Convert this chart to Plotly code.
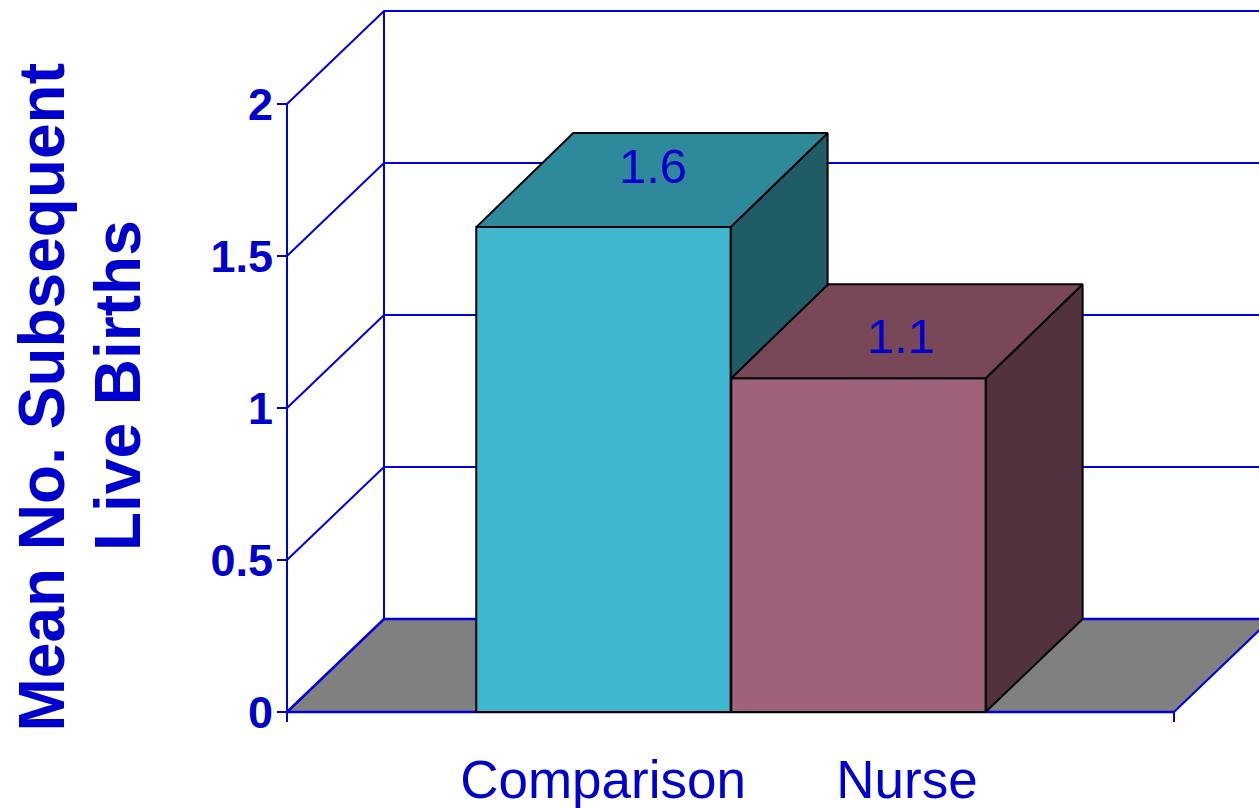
import plotly.graph_objects as go

# ---- data ----
groups = ["Comparison", "Nurse"]
values = [1.595, 1.098]
value_labels = ["1.6", "1.1"]
y_ticks = [0, 0.5, 1, 1.5, 2]
y_tick_labels = ["0", "0.5", "1", "1.5", "2"]
title_lines = ["Mean No. Subsequent", "Live Births"]

# ---- geometry (axis units) ----
W, H = 1259, 808
X0_PX, X_PER_UNIT = 287, 443.5
Y0_PX, Y_PER_UNIT = 712, 304
bar_centers = [0.7135, 1.2885]
bar_width = 0.5735
label_ticks = [0.7125, 1.398]
x_end = 2
y_top = 2
depth_x = 97 / X_PER_UNIT
depth_y = 93 / Y_PER_UNIT
bar_depth_y = 94 / Y_PER_UNIT
x_range = [-X0_PX / X_PER_UNIT, (W - X0_PX) / X_PER_UNIT]
y_range = [-(H - Y0_PX) / Y_PER_UNIT, Y0_PX / Y_PER_UNIT]
tick_drop = 10 / Y_PER_UNIT
value_label_x = [0.7125 + 50 / X_PER_UNIT, 1.2875 + 43 / X_PER_UNIT]
value_label_lift = [56 / Y_PER_UNIT, 37 / Y_PER_UNIT]

# ---- style ----
BLUE = "#0000DC"
TEXT = "#0000CC"
FLOOR = "#808080"
front = ["#40B6CF", "#9E627A"]
top = ["#2E8A9A", "#784859"]
side = ["#205C66", "#52323E"]
FONT = "Liberation Sans, Arial, sans-serif"

fig = go.Figure()


def line(xs, ys, width=2):
    fig.add_trace(go.Scatter(x=xs, y=ys, mode="lines", showlegend=False, hoverinfo="skip",
                             line=dict(color=BLUE, width=width)))


def poly(xs, ys, fill, xaxis="x", yaxis="y"):
    fig.add_trace(go.Scatter(x=xs + xs[:1], y=ys + ys[:1], mode="lines", fill="toself",
                             fillcolor=fill, line=dict(color="black", width=2),
                             showlegend=False, hoverinfo="skip", xaxis=xaxis, yaxis=yaxis))


# floor
fig.add_trace(go.Scatter(x=[0, x_end, x_end + depth_x, depth_x, 0],
                         y=[0, 0, depth_y, depth_y, 0], mode="lines", fill="toself",
                         fillcolor=FLOOR, line=dict(width=0), showlegend=False, hoverinfo="skip"))

# walls and gridlines
for v in y_ticks:
    line([0, depth_x, x_end + depth_x], [v, v + depth_y, v + depth_y],
         2.5 if v == 0 else 2)
line([0, 0], [-tick_drop, y_top])
line([depth_x, depth_x], [depth_y, y_top + depth_y])
line([0, x_end], [0, 0], 2.5)
line([x_end, x_end], [-tick_drop, 0])
line([x_end, x_end + depth_x], [0, depth_y])

# side faces, behind the fronts
for c, v, s in zip(bar_centers, values, side):
    r = c + bar_width / 2
    poly([r, r + depth_x, r + depth_x, r], [0, depth_y, v + bar_depth_y, v], s)

# front faces, in an overlay so they sit above the scatter layer
fig.add_trace(go.Bar(x=bar_centers, y=values, width=bar_width, marker=dict(
    color=front, line=dict(color="black", width=2)),
    showlegend=False, hoverinfo="skip", xaxis="x2", yaxis="y2"))

# top faces
for c, v, t in zip(bar_centers, values, top):
    l, r = c - bar_width / 2, c + bar_width / 2
    poly([l, r, r + depth_x, l + depth_x], [v, v, v + bar_depth_y, v + bar_depth_y], t, "x2", "y2")

# value labels
fig.add_trace(go.Scatter(x=value_label_x, y=[v + d for v, d in zip(values, value_label_lift)],
                         mode="text", text=value_labels, textposition="middle center",
                         textfont=dict(family=FONT, size=49, color=TEXT),
                         showlegend=False, hoverinfo="skip", xaxis="x2", yaxis="y2"))

fig.update_layout(
    width=W, height=H, margin=dict(l=0, r=0, t=0, b=0, autoexpand=False),
    paper_bgcolor="white", plot_bgcolor="white", showlegend=False,
    xaxis=dict(domain=[0, 1], range=x_range, anchor="free", position=(H - Y0_PX) / H,
               automargin=False,
               tickmode="array", tickvals=label_ticks, ticktext=groups, ticks="",
               ticklabelstandoff=32, showgrid=False, zeroline=False, showline=False,
               tickfont=dict(family=FONT, size=53, color=TEXT)),
    yaxis=dict(domain=[0, 1], range=y_range, anchor="free", position=X0_PX / W,
               automargin=False,
               tickmode="array", tickvals=y_ticks, ticktext=[f"<b>{t}</b>" for t in y_tick_labels],
               ticks="outside", ticklen=10, tickwidth=2, tickcolor=BLUE,
               ticklabelstandoff=-5,
               showgrid=False, zeroline=False, showline=False,
               tickfont=dict(family=FONT, size=45, color=TEXT)),
    xaxis2=dict(overlaying="x", range=x_range, visible=False, anchor="y2"),
    yaxis2=dict(overlaying="y", range=y_range, visible=False, anchor="x2"),
    annotations=[
        dict(text=f"<b>{title_lines[0]}</b>", xref="paper", yref="paper", x=41.5 / W, y=1 - 397 / H,
             textangle=-90, showarrow=False, xanchor="center", yanchor="middle",
             font=dict(family=FONT, size=64, color=TEXT)),
        dict(text=f"<b>{title_lines[1]}</b>", xref="paper", yref="paper", x=118 / W, y=1 - 386 / H,
             textangle=-90, showarrow=False, xanchor="center", yanchor="middle",
             font=dict(family=FONT, size=64, color=TEXT)),
    ],
)

fig.write_html("out.html", config=dict(displayModeBar=False),
               post_script="document.body.style.margin='0';")
